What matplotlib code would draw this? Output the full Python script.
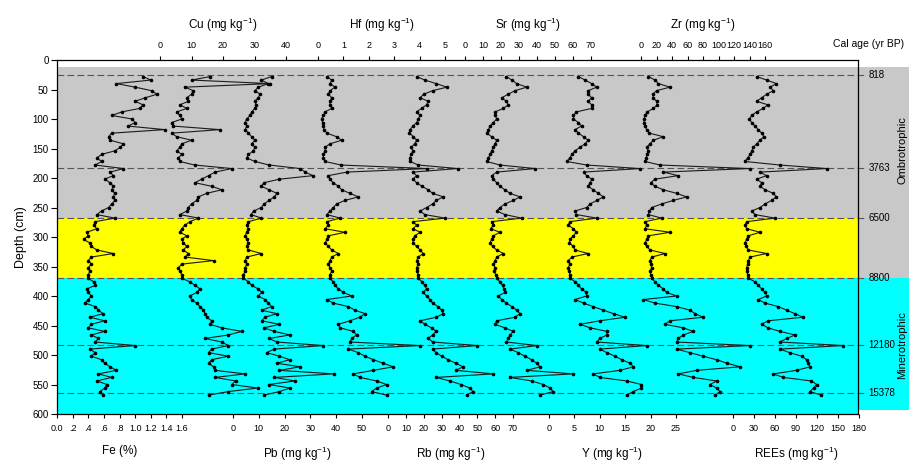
import numpy as np
import matplotlib
matplotlib.use('Agg')
import matplotlib.pyplot as plt
import matplotlib.transforms as mtransforms

plt.rcParams['font.family'] = ['Liberation Sans', 'DejaVu Sans']
plt.rcParams['mathtext.fontset'] = 'custom'
plt.rcParams['mathtext.rm'] = 'Liberation Sans'

# sample depths (cm)
depth = [28, 34, 40, 46, 52, 58, 64, 70, 76, 82,
         88, 94, 100, 106, 112, 118, 124, 130, 136, 142,
         148, 154, 160, 166, 172, 178, 184, 190, 196, 202,
         208, 214, 220, 226, 232, 238, 244, 250, 256, 262,
         268, 274, 280, 286, 292, 298, 304, 310, 316, 322,
         328, 334, 340, 346, 352, 358, 364, 370, 376, 382,
         388, 394, 400, 406, 412, 418, 424, 430, 436, 442,
         448, 454, 460, 466, 472, 478, 484, 490, 496, 502,
         508, 514, 520, 526, 532, 538, 544, 550, 556, 562, 568]

fe = [1.10, 1.20, 0.76, 1.00, 1.21, 1.28, 1.13, 1.00, 1.10, 1.06,
      0.83, 0.70, 0.96, 1.00, 0.91, 1.38, 0.70, 0.66, 0.68, 0.85,
      0.81, 0.74, 0.57, 0.51, 0.57, 0.49, 0.85, 0.68, 0.72, 0.61,
      0.68, 0.72, 0.70, 0.74, 0.72, 0.74, 0.70, 0.66, 0.57, 0.51,
      0.74, 0.49, 0.47, 0.51, 0.38, 0.40, 0.34, 0.42, 0.44, 0.51,
      0.72, 0.44, 0.40, 0.44, 0.40, 0.42, 0.40, 0.40, 0.47, 0.49,
      0.38, 0.40, 0.44, 0.40, 0.36, 0.49, 0.53, 0.59, 0.42, 0.61,
      0.44, 0.40, 0.61, 0.44, 0.53, 0.49, 1.00, 0.42, 0.49, 0.44,
      0.57, 0.61, 0.68, 0.76, 0.53, 0.70, 0.51, 0.64, 0.61, 0.55, 0.59]

cu = [16, 10, 35, 8, 10.5, 10, 8.5, 9, 6.3, 8.5,
      5.3, 6.3, 6.9, 3.7, 4.2, 19, 3.7, 5.3, 10, 6.9,
      6.3, 5.3, 6.9, 5.8, 6.3, 11, 22.8, 17.5, 15.4, 13.2,
      11.1, 16.4, 19.6, 14.8, 12.2, 11.6, 10, 9, 8.5, 6.3,
      12.2, 9.5, 7.9, 6.9, 6.3, 8.5, 6.9, 7.4, 8.5, 7.4,
      9, 8, 17, 6.9, 5.8, 6.3, 6.9, 6.9, 9.5, 11.1,
      12.7, 11.6, 9.5, 10, 11.6, 12.7, 13.8, 14.3, 14.8, 16.4,
      15.9, 19.6, 26, 21.7, 14.3, 19.6, 21.7, 16.4, 15.4, 21.7,
      16.4, 15.4, 17, 17.5, 27, 17.5, 24, 22.8, 31, 21.7, 15.4]

pb = [15, 11, 13.7, 9.8, 8.5, 10.5, 9.8, 8.5, 9, 8.5,
      7.2, 6.6, 5.3, 4.7, 5.3, 4.7, 6, 7.2, 8.5, 7.2,
      8.5, 7.9, 6, 5.3, 8.5, 14, 26, 28, 31, 18,
      12, 11, 14, 17, 16, 14, 12, 11, 8, 7,
      11, 6, 5.3, 6, 5.3, 4.7, 5.3, 6, 5.3, 6,
      11, 5.3, 4.7, 5.3, 4.7, 4.7, 4, 4, 6, 7.2,
      9.8, 11.1, 9.8, 12.4, 13.7, 15, 11.1, 17, 12.4, 11.1,
      18, 12, 16, 22, 14, 17, 35, 16, 13, 18,
      22, 17, 26, 18, 39, 16, 24, 14, 22, 18, 12]

hf = [0.35, 0.54, 0.47, 0.67, 0.47, 0.41, 0.54, 0.47, 0.47, 0.54,
      0.28, 0.21, 0.14, 0.18, 0.21, 0.24, 0.35, 0.73, 0.93, 0.47,
      0.28, 0.28, 0.21, 0.21, 0.28, 0.90, 4.3, 1.13, 0.41, 0.47,
      0.60, 0.80, 0.93, 1.26, 1.59, 1.06, 0.73, 0.60, 0.47, 0.35,
      0.87, 0.35, 0.41, 0.28, 1.06, 0.41, 0.35, 0.28, 0.41, 0.54,
      0.80, 0.54, 0.47, 0.41, 0.47, 0.54, 0.47, 0.47, 0.60, 0.67,
      0.80, 1.00, 1.33, 0.35, 0.60, 1.19, 1.46, 1.85, 1.65, 1.26,
      0.80, 0.87, 1.39, 1.52, 1.33, 1.26, 4.0, 1.19, 1.59, 1.85,
      2.18, 2.57, 2.96, 2.18, 1.39, 1.65, 2.31, 2.70, 2.31, 2.11, 2.70]

rb = [16, 20.6, 27, 33, 25, 20, 18, 22.5, 21.6, 18.8,
      16, 18, 17, 16, 14, 12.3, 12, 14.2, 16, 15,
      13, 14, 13, 12.3, 12.3, 17, 39, 14, 16, 14,
      16, 19, 22.5, 25, 31, 27, 25, 21.6, 18, 20.6,
      32, 14, 16, 14, 18, 15, 14, 14, 16, 18,
      19.7, 17, 16, 17, 16, 16, 17, 17, 19, 20.6,
      21.6, 19.7, 21.6, 23.5, 25, 28, 30, 31, 27, 18,
      20.6, 24.4, 27, 25, 22.5, 25, 50, 25, 27, 30,
      33.7, 38, 42, 38, 59, 27, 34.6, 41, 45.8, 47.6, 44]

sr = [23, 26, 28.7, 34.3, 27.8, 24, 20.4, 23, 24, 21.3,
      16.7, 16.7, 17.6, 15.7, 13.9, 13, 12, 14.8, 17.6, 16.7,
      15.7, 14.8, 13.9, 13, 12, 19.4, 39, 17.6, 14.8, 15.7,
      17.6, 19.4, 22.2, 25, 30.6, 26.8, 22.2, 19.4, 17.6, 22.2,
      31.5, 14.8, 15.7, 14.3, 19.4, 15.7, 14.8, 13.9, 15.3, 17.6,
      21.3, 17.6, 16.7, 15.7, 16.7, 16, 17.2, 17.6, 19.4, 20.9,
      21.6, 22.2, 18.5, 20.4, 23, 26, 28.7, 30.6, 27.8, 17.6,
      16.7, 22.2, 26.8, 25, 24, 23, 40, 25, 29.6, 33.3,
      37, 39.8, 41.7, 34.3, 60, 25, 37, 43.5, 47.2, 49, 41.7]

yv = [5.8, 7.1, 8.4, 9.4, 7.7, 7.7, 8.4, 7.7, 8.4, 8.4,
      5.4, 4.8, 4.8, 5.8, 6.4, 5.1, 5.8, 6.8, 7.7, 7.1,
      6.1, 5.1, 4.5, 4.1, 3.5, 7.4, 17.9, 6.8, 7.4, 8.4,
      8.1, 7.7, 8.7, 9.7, 10.7, 9.4, 8.1, 7.4, 5.1, 5.4,
      9.4, 4.1, 3.8, 4.8, 5.4, 4.8, 4.1, 4.0, 4.8, 5.1,
      7.7, 4.5, 3.8, 4.1, 3.8, 4.0, 4.1, 4.1, 5.2, 5.8,
      6.4, 7.3, 7.4, 5.1, 6.8, 8.7, 10.7, 12.7, 15, 10,
      6.1, 8.1, 11.4, 11.4, 10, 9.4, 19.2, 10, 11.4, 13,
      14.3, 16, 16.6, 14, 8.7, 10, 15.3, 18.2, 18.2, 16.6, 15.3]

zr = [9.5, 18, 22.4, 37.4, 20, 15, 16, 20, 21, 16,
      8, 5.2, 4, 4, 5.2, 7.3, 10.7, 28.8, 16, 11.6,
      7.3, 9.5, 8, 6.5, 5.2, 24.5, 140, 28.8, 48, 18,
      12.5, 18, 28.8, 46, 59, 41.7, 26.7, 13.8, 10.7, 9.5,
      26.7, 5.2, 7.3, 5.2, 37.4, 9.5, 7.3, 5.2, 7.3, 11.6,
      31, 13.8, 11.6, 12.5, 13.8, 11.6, 12.5, 13.8, 18, 22.4,
      28.8, 33, 46, 3, 18, 46, 63, 70, 80, 37.4,
      31, 54.6, 67.5, 54.6, 48, 46, 140, 46, 63, 80,
      97.6, 111, 128, 72, 48, 67.5, 97.6, 89, 97.6, 102, 96]

ree = [33.8, 48, 62, 53, 57.6, 48, 41, 33.8, 50, 43,
       33.8, 26.7, 23.3, 26.7, 31.5, 36, 41, 44, 38.6, 33.8,
       29, 26.7, 24.3, 21, 17, 67, 134, 38.6, 48, 33.8,
       41, 38.6, 45.7, 57.6, 62, 55, 45.7, 38.6, 26.7, 31.5,
       60, 19.5, 17, 19.5, 38.6, 22, 19.5, 17, 18.6, 22,
       48, 24.3, 22, 21, 19.5, 19.5, 21, 22, 31.5, 36,
       41, 45.7, 48, 36, 45.7, 64.7, 76.7, 88.6, 100, 50,
       41, 50, 67, 88.6, 76.7, 67, 157.6, 67, 81, 98,
       105, 107, 110, 91, 57.6, 72, 112, 119.5, 115, 110, 126]

# zone boundaries (cm) and calibrated ages
age_depth = [25, 183, 267, 370, 483, 564]
age_label = ['818', '3763', '6500', '8800', '12180', '15378']

W, H = 909, 463
L, R, T, B = 57, 858, 60, 414

fig = plt.figure(figsize=(W / 100, H / 100), dpi=100)

def box(x0, x1):
    return [x0 / W, 1 - B / H, (x1 - x0) / W, (B - T) / H]

ax = fig.add_axes(box(L, R))
ax.set_xlim(0, 1)
ax.set_ylim(600, 0)
ax.set_xticks([])
ax.set_yticks(range(0, 601, 50))
ax.tick_params(axis='y', direction='out', length=4, labelsize=7, pad=2)
ax.set_ylabel('Depth (cm)', fontsize=9, labelpad=4)
for s in ax.spines.values():
    s.set_linewidth(0.9)

'''coloured zones, the grey and cyan run on past the right frame'''
grey, yellow, cyan = '#c8c8c8', '#ffff00', '#00ffff'
ax.axhspan(12, 268, xmin=0, xmax=1, color=grey, lw=0, zorder=0)
ax.axhspan(268, 370, xmin=0, xmax=1, color=yellow, lw=0, zorder=0)
ax.axhspan(370, 600, xmin=0, xmax=1, color=cyan, lw=0, zorder=0)
ax.axhspan(12, 370, xmin=1, xmax=1.07, color=grey, lw=0, zorder=0, clip_on=False)
ax.axhspan(370, 594, xmin=1, xmax=1.07, color=cyan, lw=0, zorder=0, clip_on=False)

'''dashed age lines with labels'''
trans = mtransforms.blended_transform_factory(ax.transAxes, ax.transData)
for d, lab in zip(age_depth, age_label):
    ax.plot([0, 1.009], [d, d], transform=trans, ls=(0, (6, 3)), color='#555555',
            lw=0.8, clip_on=False, zorder=1)
    ax.text(1.013, d, lab, transform=trans, fontsize=7, va='center', ha='left')

fig.text(869 / W, 1 - 44 / H, 'Cal age (yr BP)', fontsize=7.5, ha='center', va='center')
fig.text(902 / W, 1 - 150 / H, 'Ombrotrophic', fontsize=8, rotation=90,
         ha='center', va='center')
fig.text(902 / W, 1 - 345 / H, 'Minerotrophic', fontsize=8, rotation=90,
         ha='center', va='center')

'''one little axes per element, laid over the main frame'''
panels = [
    (fe, 'Fe (%)', 'bottom', 57, 182, np.arange(0, 1.61, 0.2),
     ['0.0', '.2', '.4', '.6', '.8', '1.0', '1.2', '1.4', '1.6']),
    (cu, r'Cu (mg kg$^{-1}$)', 'top', 160, 286, range(0, 41, 10), None),
    (pb, r'Pb (mg kg$^{-1}$)', 'bottom', 233, 362, range(0, 51, 10), None),
    (hf, r'Hf (mg kg$^{-1}$)', 'top', 318, 445, range(0, 6), None),
    (rb, r'Rb (mg kg$^{-1}$)', 'bottom', 388, 513, range(0, 71, 10), None),
    (sr, r'Sr (mg kg$^{-1}$)', 'top', 465, 591, range(0, 71, 10), None),
    (yv, r'Y (mg kg$^{-1}$)', 'bottom', 549, 676, range(0, 26, 5), None),
    (zr, r'Zr (mg kg$^{-1}$)', 'top', 641, 765, range(0, 161, 20), None),
    (ree, r'REEs (mg kg$^{-1}$)', 'bottom', 733, 859, range(0, 181, 30), None),
]

for vals, name, side, x0, x1, ticks, ticklabels in panels:
    p = fig.add_axes(box(x0, x1))
    p.patch.set_alpha(0)
    for s in p.spines.values():
        s.set_visible(False)
    ticks = list(ticks)
    p.set_xlim(ticks[0], ticks[-1])
    p.set_ylim(600, 0)
    p.set_yticks([])
    p.set_xticks(ticks)
    if ticklabels is not None:
        p.set_xticklabels(ticklabels)
    if side == 'top':
        p.xaxis.tick_top()
        p.xaxis.set_label_position('top')
    p.tick_params(axis='x', direction='out', length=3, width=0.8, labelsize=6.5, pad=4)
    p.set_xlabel(name, fontsize=8.5, labelpad=9)
    p.plot(vals, depth, color='#1a1a1a', lw=0.8, marker='o', ms=1.6,
           mfc='black', mec='black', clip_on=False, zorder=3)

fig.savefig('out.png', dpi=100)
